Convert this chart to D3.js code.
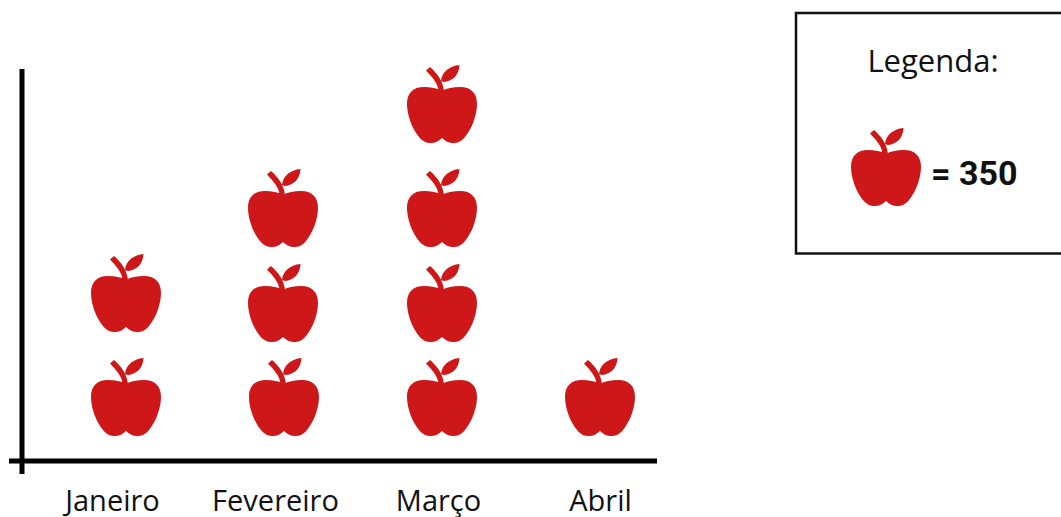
<!DOCTYPE html>
<html>
<head>
<meta charset="utf-8">
<title>Pictograma</title>
<script src="https://cdn.jsdelivr.net/npm/d3@7"></script>
<style>
  html, body { margin: 0; padding: 0; background: #fff; overflow: hidden; }
  text { fill: #111; }
  .label { font-family: "Open Sans", sans-serif; font-size: 29px; }
  .valor { font-family: Roboto, sans-serif; font-size: 34px; font-weight: 700; }
</style>
</head>
<body>
<div id="chart"></div>
<script>
// Data: one apple = 350
const meses = ["Janeiro", "Fevereiro", "Março", "Abril"];
const macas = [2, 3, 4, 1];
const valorPorMaca = 350;

const width = 1061,
  height = 517,
  red = "#cd1719";

const svg = d3
  .select("#chart")
  .append("svg")
  .attr("width", width)
  .attr("height", height)
  .style("display", "block");

const x = d3.scalePoint().domain(meses).range([126, 600]);

// the rows in the picture are not evenly spaced
const row = d3.scaleOrdinal().domain([0, 1, 2, 3]).range([436, 342, 247, 143]);

// apple drawn with x=0 at its middle and y=0 at its bottom
const applePath =
  "M0,-52 C5,-55 11,-56 18,-56 C29,-56 35,-50 35,-39 C35,-27 29,-13 23,-6 " +
  "C19,-1 15,0 11,0 C7,0 3,-2 0,-5 C-3,-2 -7,0 -11,0 C-15,0 -19,-1 -23,-6 " +
  "C-29,-13 -35,-27 -35,-39 C-35,-50 -29,-56 -18,-56 C-11,-56 -5,-55 0,-52 Z " +
  "M-3.5,-52 C-4,-60 -10,-66 -16,-72.5 L-12,-76 C-5,-70 1,-62 2,-52 Z " +
  "M-1,-62 C0,-71 7,-77 17.5,-78 C17,-68 11,-62 2,-61 Z";

function drawApple(g, cx, bottom) {
  g.append("path")
    .attr("d", applePath)
    .attr("fill", red)
    .attr("transform", "translate(" + cx + "," + bottom + ")");
}

// Apples
const apples = svg.append("g").attr("class", "apples");
meses.forEach(function(m, i) {
  d3.range(macas[i]).forEach(function(r) {
    // small shifts
    const dy = m === "Janeiro" && r === 1 ? -10 : 0;
    const dx = m === "Fevereiro" && r > 0 ? -1 : 0;
    drawApple(apples, x(m) + dx, row(r) + dy);
  });
});

// Axes
svg.append("line")
  .attr("x1", 22).attr("x2", 22)
  .attr("y1", 69).attr("y2", 474)
  .attr("stroke", "#000").attr("stroke-width", 5);

const labelShift = { Janeiro: -14, Fevereiro: -9, "Março": -4, Abril: 0 };

const xAxis = d3.axisBottom(x).tickSize(0).tickPadding(0);
const gx = svg.append("g").attr("transform", "translate(0,461)").call(xAxis);
gx.select(".domain").remove();
gx.selectAll("text")
  .attr("class", "label")
  .attr("font-family", null)
  .attr("x", function(d) { return labelShift[d]; })
  .attr("dy", null)
  .attr("y", 50);

svg.append("line")
  .attr("x1", 9).attr("x2", 657)
  .attr("y1", 461).attr("y2", 461)
  .attr("stroke", "#000").attr("stroke-width", 5);

// Legend
svg.append("rect")
  .attr("x", 796).attr("y", 13)
  .attr("width", 300).attr("height", 240.5)
  .attr("fill", "none")
  .attr("stroke", "#111").attr("stroke-width", 2.5);

svg.append("text")
  .attr("class", "label")
  .attr("x", 933).attr("y", 72)
  .attr("text-anchor", "middle")
  .style("font-size", "31px")
  .text("Legenda:");

drawApple(svg, 886, 206);

svg.append("text")
  .attr("class", "valor")
  .attr("x", 931).attr("y", 185)
  .text("= " + valorPorMaca);
</script>
</body>
</html>
